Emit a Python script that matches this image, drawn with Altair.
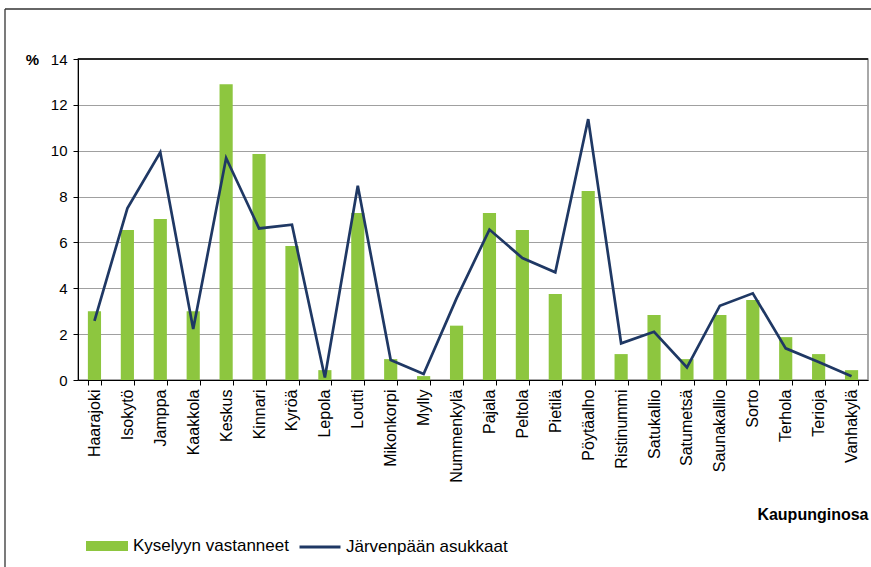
import altair as alt
import pandas as pd

# Järvenpää districts and their shares (%)
kaupunginosat = [
    "Haarajoki", "Isokytö", "Jamppa", "Kaakkola", "Keskus", "Kinnari",
    "Kyröä", "Lepola", "Loutti", "Mikonkorpi", "Mylly", "Nummenkylä",
    "Pajala", "Peltola", "Pietilä", "Pöytäalho", "Ristinummi", "Satukallio",
    "Satumetsä", "Saunakallio", "Sorto", "Terhola", "Terioja", "Vanhakylä",
]
vastanneet = [
    3.0, 6.54, 7.02, 3.0, 12.9, 9.86, 5.84, 0.43, 7.28, 0.91, 0.17, 2.37,
    7.28, 6.54, 3.75, 8.24, 1.13, 2.83, 0.91, 2.83, 3.49, 1.87, 1.13, 0.43,
]
asukkaat = [
    2.58, 7.49, 9.93, 2.22, 9.68, 6.61, 6.77, 0.11, 8.47, 0.87, 0.26, 3.56,
    6.56, 5.32, 4.70, 11.38, 1.60, 2.10, 0.55, 3.24, 3.78, 1.38, 0.78, 0.16,
]
y_ticks = [0, 2, 4, 6, 8, 10, 12, 14]
sarja_palkit = "Kyselyyn vastanneet"
sarja_viiva = "Järvenpään asukkaat"

df = pd.DataFrame({
    "Kaupunginosa": kaupunginosat,
    "vastanneet": vastanneet,
    "asukkaat": asukkaat,
    "sarja_palkit": sarja_palkit,
    "sarja_viiva": sarja_viiva,
})

GREEN = "#8DC63F"
NAVY = "#1F3864"
FONT = "Liberation Sans"

W, H = 790, 321

x_enc = alt.X(
    "Kaupunginosa:N",
    sort=kaupunginosat,
    scale=alt.Scale(paddingInner=0.6, paddingOuter=0.3),
    axis=alt.Axis(
        title="Kaupunginosa",
        labelAngle=-90,
        labelFontSize=16,
        labelPadding=4,
        labelColor="black",
        tickBand="extent",
        tickSize=5,
        tickColor="black",
        domainColor="black",
        titleFontSize=16,
        titleFontWeight="bold",
        titleColor="black",
        titleAlign="right",
        titleBaseline="alphabetic",
        titleX=W,
        titleY=139,
        grid=False,
    ),
)

y_scale = alt.Scale(domain=[0, 14], nice=False)

bars = alt.Chart(df).mark_bar().encode(
    x=x_enc,
    y=alt.Y(
        "vastanneet:Q",
        scale=y_scale,
        axis=alt.Axis(
            values=y_ticks,
            title="%",
            titleAngle=0,
            titleX=-46,
            titleY=0,
            titleAlign="center",
            titleBaseline="middle",
            titleFontSize=15,
            titleFontWeight="bold",
            titleColor="black",
            labelFontSize=15,
            labelPadding=6,
            labelColor="black",
            tickSize=5,
            tickColor="black",
            domainColor="black",
            gridColor="#a0a0a0",
            gridWidth=1.2,
        ),
    ),
    fill=alt.Fill(
        "sarja_palkit:N",
        scale=alt.Scale(domain=[sarja_palkit], range=[GREEN]),
        legend=alt.Legend(
            title=None,
            orient="none",
            legendX=8,
            legendY=466,
            padding=0,
            symbolType="M-1,-0.24H1V0.24H-1Z",
            symbolSize=1764,
            symbolStrokeWidth=0,
            labelFontSize=17,
            labelColor="black",
            labelOffset=5,
            labelLimit=0,
        ),
    ),
)

line = alt.Chart(df).mark_line(strokeWidth=2.7).encode(
    x=x_enc,
    y=alt.Y("asukkaat:Q", scale=y_scale),
    stroke=alt.Stroke(
        "sarja_viiva:N",
        scale=alt.Scale(domain=[sarja_viiva], range=[NAVY]),
        legend=alt.Legend(
            title=None,
            orient="none",
            legendX=220,
            legendY=466,
            padding=0,
            symbolType="stroke",
            symbolSize=1681,
            symbolStrokeWidth=3,
            labelFontSize=17,
            labelColor="black",
            labelOffset=4,
            labelLimit=0,
        ),
    ),
)

# dark top edge of the plot area
top_edge = alt.Chart(alt.Data(values=[{}])).mark_rule(
    color="black", strokeWidth=1.3
).encode(y=alt.datum(14))

# outer frame around the figure
frame_left = alt.Chart(alt.Data(values=[{}])).mark_rule(
    color="#333333", strokeWidth=1.3
).encode(x=alt.value(-73), y=alt.value(-50), y2=alt.value(H + 200))
frame_top = alt.Chart(alt.Data(values=[{}])).mark_rule(
    color="#333333", strokeWidth=1.3
).encode(x=alt.value(-73), x2=alt.value(W + 20), y=alt.value(-50))

chart = (
    alt.layer(bars, line, top_edge, frame_left, frame_top)
    .resolve_scale(fill="independent", stroke="independent")
    .properties(
        width=W,
        height=H,
        autosize=alt.AutoSizeParams(type="none"),
        padding={"left": 78, "top": 59, "right": 3, "bottom": 187},
        background="white",
    )
    .configure_axis(labelFont=FONT, titleFont=FONT)
    .configure_legend(labelFont=FONT)
    .configure_view(stroke="#8c8c8c", strokeWidth=1.5)
)

chart.save("out.html", embed_options={"renderer": "svg", "actions": False})
